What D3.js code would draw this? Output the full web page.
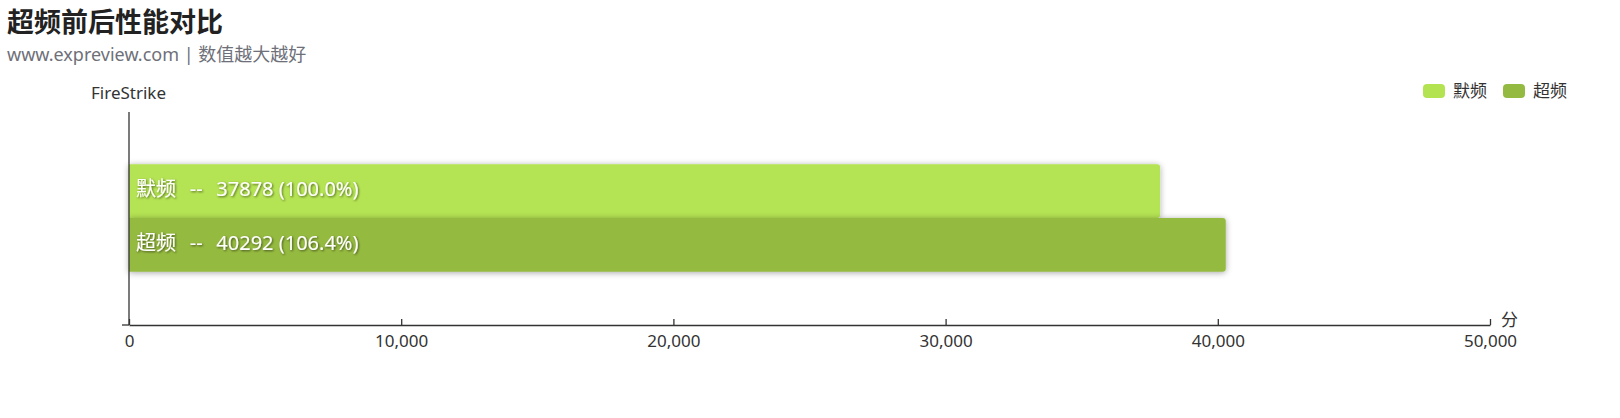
<!DOCTYPE html>
<html><head><meta charset="utf-8">
<script src="https://cdn.jsdelivr.net/npm/d3@7/dist/d3.min.js"></script>
<style>
html,body{margin:0;padding:0;background:#fff;}
svg{display:block;font-family:"Noto Sans","Noto Sans CJK SC",sans-serif;}
</style></head>
<body>
<svg id="c" width="1620" height="418"></svg>
<script>
const title = "超频前后性能对比";
const subtitle = "www.expreview.com | 数值越大越好";
const categories = ["FireStrike"];
const seriesNames = ["默频", "超频"];
const seriesValues = [[37878], [40292]];
const seriesColors = ["#b4e352", "#95ba41"];
const xTicks = [0, 10000, 20000, 30000, 40000, 50000];
const xUnit = "分";

const svg = d3.select("#c");
const defs = svg.append("defs");
const f = defs.append("filter").attr("id","sh").attr("x","-5%").attr("y","-40%").attr("width","110%").attr("height","180%");
f.append("feDropShadow").attr("dx",0).attr("dy",1).attr("stdDeviation",3).attr("flood-color","#000").attr("flood-opacity",0.35);
const tf = defs.append("filter").attr("id","tsh").attr("x","-10%").attr("y","-30%").attr("width","120%").attr("height","160%");
tf.append("feDropShadow").attr("dx",1).attr("dy",1).attr("stdDeviation",1.2).attr("flood-color","#000").attr("flood-opacity",0.55);

svg.append("text").attr("x",7).attr("y",32).attr("font-size",27).attr("font-weight","bold")
  .attr("fill","#222").attr("font-family","'Noto Sans CJK SC',sans-serif").text(title);
svg.append("text").attr("x",7).attr("y",61).attr("font-size",18).attr("fill","#6e7079").text(subtitle);

const x = d3.scaleLinear().domain([0, 50000]).range([129, 1490]);
const y = d3.scaleBand().domain(categories).range([112, 325]);
const inner = d3.scaleBand().domain(seriesNames)
  .range([y.bandwidth()*0.245, y.bandwidth()*0.75]);

// y axis name
svg.append("text").attr("x",91).attr("y",99).attr("font-size",17).attr("fill","#333").text(categories[0]);

// bars
const base = seriesValues[0][0];
categories.forEach((cat, ci) => {
  seriesNames.forEach((s, si) => {
    const v = seriesValues[si][ci];
    const y0 = y(cat) + inner(s);
    const h = inner.bandwidth();
    const w = x(v) - x(0);
    const r = 3;
    const p = `M${x(0)},${y0} H${x(0)+w-r} Q${x(0)+w},${y0} ${x(0)+w},${y0+r} V${y0+h-r} Q${x(0)+w},${y0+h} ${x(0)+w-r},${y0+h} H${x(0)} Z`;
    svg.append("path").attr("d",p).attr("fill",seriesColors[si]).attr("filter","url(#sh)");
  });
});
categories.forEach((cat, ci) => {
  seriesNames.forEach((s, si) => {
    const v = seriesValues[si][ci];
    const y0 = y(cat) + inner(s);
    const h = inner.bandwidth();
    const pct = (v / base * 100).toFixed(1);
    svg.append("text").attr("x", x(0)+7).attr("y", y0 + h/2 - 2).attr("dy","0.36em")
      .attr("font-size",20).attr("fill","#fff").attr("filter","url(#tsh)")
      .style("white-space","pre")
      .text(`${s}  \u2009--  \u2009${v} (${pct}%)`);
  });
});

// y axis line
svg.append("line").attr("x1",129).attr("x2",129).attr("y1",112).attr("y2",325).attr("stroke","#333").attr("stroke-width",1.3);
svg.append("line").attr("x1",122).attr("x2",129).attr("y1",325).attr("y2",325).attr("stroke","#333").attr("stroke-width",1.3);

// x axis
const xa = svg.append("g").attr("transform","translate(0,325)")
  .call(d3.axisBottom(x).tickValues(xTicks).tickSize(6).tickSizeOuter(0).tickFormat(d3.format(",")));
xa.select(".domain").attr("stroke","#333").attr("stroke-width",1.3);
xa.selectAll(".tick line").attr("stroke","#333").attr("stroke-width",1.3).attr("y2",-6);
xa.selectAll(".tick text").attr("font-size",17).attr("fill","#333").attr("y",10).attr("dy","0.71em")
  .attr("font-family","'Noto Sans','Noto Sans CJK SC',sans-serif");
svg.append("text").attr("x",1501).attr("y",320).attr("dy","0.35em").attr("font-size",17).attr("fill","#333").text(xUnit);

// legend
const lg = svg.append("g");
const lx = [1423, 1503];
seriesNames.forEach((s, i) => {
  lg.append("rect").attr("x",lx[i]).attr("y",84).attr("width",22).attr("height",14).attr("rx",4).attr("fill",seriesColors[i]);
  lg.append("text").attr("x",lx[i]+30).attr("y",91).attr("dy","0.35em").attr("font-size",17).attr("fill","#333").text(s);
});
</script>
</body></html>
